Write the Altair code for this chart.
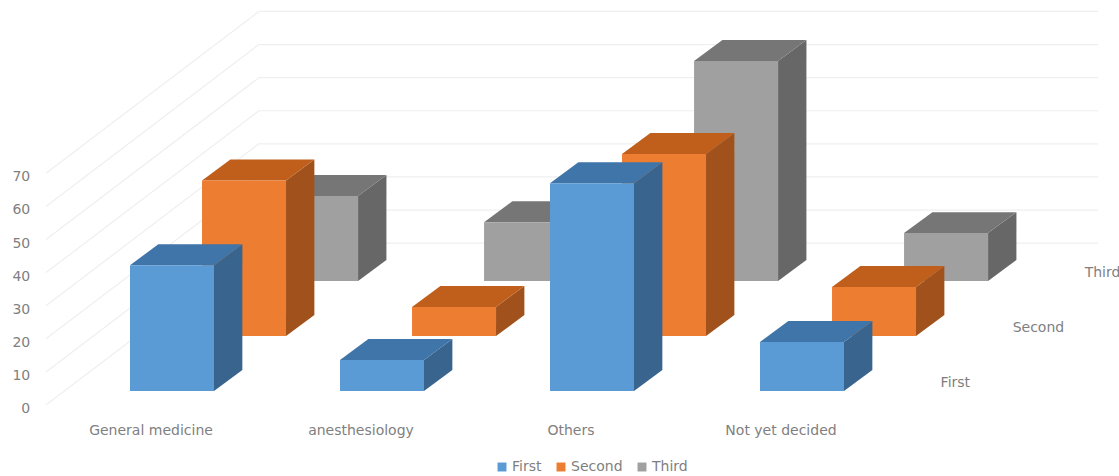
import altair as alt
import pandas as pd

categories = ["General medicine", "anesthesiology", "Others", "Not yet decided"]
series_names = ["First", "Second", "Third"]
first_values = [38.0, 9.4, 62.8, 14.8]
second_values = [47.0, 8.8, 55.0, 14.8]
third_values = [25.7, 17.8, 66.5, 14.5]
value_ticks = [0, 10, 20, 30, 40, 50, 60, 70]

front_colors = ["#5b9bd5", "#ed7d31", "#a0a0a0"]
top_colors = ["#3f75a9", "#c05f1b", "#767676"]
side_colors = ["#38648e", "#a1521c", "#676767"]

W, H = 1119, 476
# Oblique projection, expressed in axis units (one x unit is one category slot).
BAR_W = 0.40
BOX_DX, BOX_DY = 0.135, 6.34
ROW_DX, ROW_DY = 0.343, 16.6
FLOOR = 4.23
WALL_DX, WALL_DY = 1.014, 48.9
WALL_LEFT = -0.40
WALL_RIGHT = 4.61

x_scale = alt.Scale(domain=[-130 / 210, (W - 130) / 210], nice=False, zero=False)
y_scale = alt.Scale(domain=[-71 / 3.31, 405 / 3.31], nice=False, zero=False)
x_enc = alt.X("x:Q", scale=x_scale, axis=None)
y_enc = alt.Y("y:Q", scale=y_scale, axis=None)

# Gridlines on the side wall and the back wall.
wall = []
for v in value_ticks:
    wall.append({"tick": f"s{v}", "x": WALL_LEFT, "y": v})
    wall.append({"tick": f"s{v}", "x": WALL_LEFT + WALL_DX, "y": v + WALL_DY})
    wall.append({"tick": f"b{v}", "x": WALL_LEFT + WALL_DX, "y": v + WALL_DY})
    wall.append({"tick": f"b{v}", "x": WALL_RIGHT, "y": v + WALL_DY})
grid = alt.Chart(pd.DataFrame(wall)).mark_line(color="#efefef", strokeWidth=1.2).encode(
    x=x_enc, y=y_enc, detail="tick:N"
)

layers = [grid]
color_scale = alt.Scale(domain=series_names, range=front_colors)
legend = alt.Legend(
    orient="none", legendX=495, legendY=460, direction="horizontal", title=None,
    symbolType="square", symbolSize=80, symbolStrokeWidth=0, labelFontSize=14,
    labelColor="#7f7f7f", labelFont="DejaVu Sans", columnPadding=12, labelOffset=3,
)

all_values = [first_values, second_values, third_values]
# Rows are painted from the back so nearer boxes cover farther ones.
for row in [2, 1, 0]:
    fronts, tops, sides = [], [], []
    for i, (cat, val) in enumerate(zip(categories, all_values[row])):
        xl = i + row * ROW_DX
        xr = xl + BAR_W
        base = FLOOR + row * ROW_DY
        top = base + val
        fronts.append({"series": series_names[row], "x": xl, "x2": xr, "y": base, "y2": top})
        for k in (0, 1):
            tops.append({"bar": cat, "x": xl + k * BOX_DX, "x2": xr + k * BOX_DX, "y": top + k * BOX_DY})
            sides.append({"bar": cat, "x": xr + k * BOX_DX, "y": top + k * BOX_DY, "y2": base + k * BOX_DY})
    layers.append(
        alt.Chart(pd.DataFrame(sides)).mark_area(color=side_colors[row], orient="vertical").encode(
            x=x_enc, y=y_enc, y2="y2:Q", detail="bar:N"
        )
    )
    layers.append(
        alt.Chart(pd.DataFrame(tops)).mark_area(color=top_colors[row], orient="horizontal").encode(
            y=y_enc, x=x_enc, x2="x2:Q", detail="bar:N"
        )
    )
    layers.append(
        alt.Chart(pd.DataFrame(fronts)).mark_rect().encode(
            x=x_enc, x2="x2:Q", y=y_enc, y2="y2:Q",
            color=alt.Color("series:N", scale=color_scale, legend=legend),
        )
    )

text_style = dict(font="DejaVu Sans", fontSize=14, color="#7f7f7f")

tick_labels = pd.DataFrame({"x": [WALL_LEFT - 0.075] * len(value_ticks), "y": value_ticks, "t": [str(v) for v in value_ticks]})
layers.append(
    alt.Chart(tick_labels).mark_text(align="right", baseline="middle", dy=4, **text_style).encode(x=x_enc, y=y_enc, text="t:N")
)

cat_labels = pd.DataFrame({"x": [i + 0.10 for i in range(len(categories))], "y": [-7.4] * len(categories), "t": categories})
layers.append(
    alt.Chart(cat_labels).mark_text(align="center", baseline="middle", dy=2, **text_style).encode(x=x_enc, y=y_enc, text="t:N")
)

row_labels = pd.DataFrame({
    "x": [3.860 + r * ROW_DX for r in range(3)],
    "y": [7.2 + r * ROW_DY for r in range(3)],
    "t": series_names,
})
layers.append(
    alt.Chart(row_labels).mark_text(align="left", baseline="middle", dy=2, **text_style).encode(x=x_enc, y=y_enc, text="t:N")
)

chart = (
    alt.layer(*layers)
    .properties(width=W, height=H, padding=0, autosize=alt.AutoSizeParams(type="none"), background="white")
    .configure_view(stroke=None)
)

chart.save("out.html", embed_options={"renderer": "svg", "actions": False})
